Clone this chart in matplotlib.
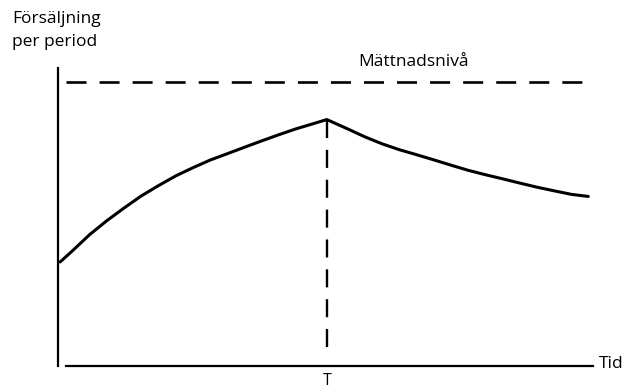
import matplotlib.pyplot as plt

plt.rcParams['font.family'] = ['Open Sans', 'DejaVu Sans']
plt.rcParams['lines.scale_dashes'] = False

# Sales per period, time in arbitrary units (0-100), T = end of introduction phase
t_rise = [0, 2.3, 5.6, 8.8, 12.1, 15.3, 18.6, 21.9, 25.1, 28.4, 31.6, 34.9,
          38.1, 41.4, 44.7, 47.9, 50.5]
s_rise = [34.9, 38.6, 44.1, 48.7, 53.0, 57.0, 60.5, 63.8, 66.5, 69.1, 71.2, 73.4,
          75.5, 77.6, 79.6, 81.3, 82.7]
t_fall = [50.5, 54.4, 57.7, 60.9, 64.2, 67.5, 70.7, 74.0, 77.2, 80.5, 83.8,
          87.0, 90.3, 93.5, 96.8, 100]
s_fall = [82.7, 79.6, 76.9, 74.6, 72.6, 70.9, 69.2, 67.4, 65.7, 64.2, 62.8,
          61.4, 60.0, 58.8, 57.6, 56.9]
T = 50.5
saturation = 95.3

fig = plt.figure(figsize=(6.31, 3.90), dpi=100)
ax = fig.add_axes([58 / 631, 24 / 390, 535 / 631, 298 / 390])
ax.set_xlim(-0.4, 100.9)
ax.set_ylim(0, 100)

# sales curve
ax.plot(t_rise + t_fall[1:], s_rise + s_fall[1:], color='black', lw=2.2,
        solid_capstyle='round', solid_joinstyle='round')

# saturation level and the vertical line at T
ax.plot([1.1, 100.4], [saturation, saturation], color='black', lw=1.9,
        dashes=(14.4, 9.4))
ax.plot([T, T], [s_rise[-1], 2.7], color='black', lw=1.7, dashes=(13, 8.5))

# axes as plain lines
for side in ['top', 'right']:
    ax.spines[side].set_visible(False)
ax.spines['left'].set_linewidth(1.6)
ax.spines['bottom'].set_linewidth(1.6)
ax.spines['bottom'].set_bounds(1.2, 100.9)
ax.set_xticks([])
ax.set_yticks([])

ax.text(T, -2.4, 'T', ha='center', va='top', fontsize=11.5)
ax.text(102.0, 0.6, 'Tid', ha='left', va='center', fontsize=12.5, clip_on=False)
ax.text(66.9, 100.7, 'Mättnadsnivå', ha='center', va='baseline', fontsize=12.5,
        clip_on=False)
fig.text(12 / 631, 1 - 11 / 390, 'Försäljning\nper period', ha='left', va='top',
         fontsize=12.5, linespacing=1.62)

fig.savefig('out.png', dpi=100)
